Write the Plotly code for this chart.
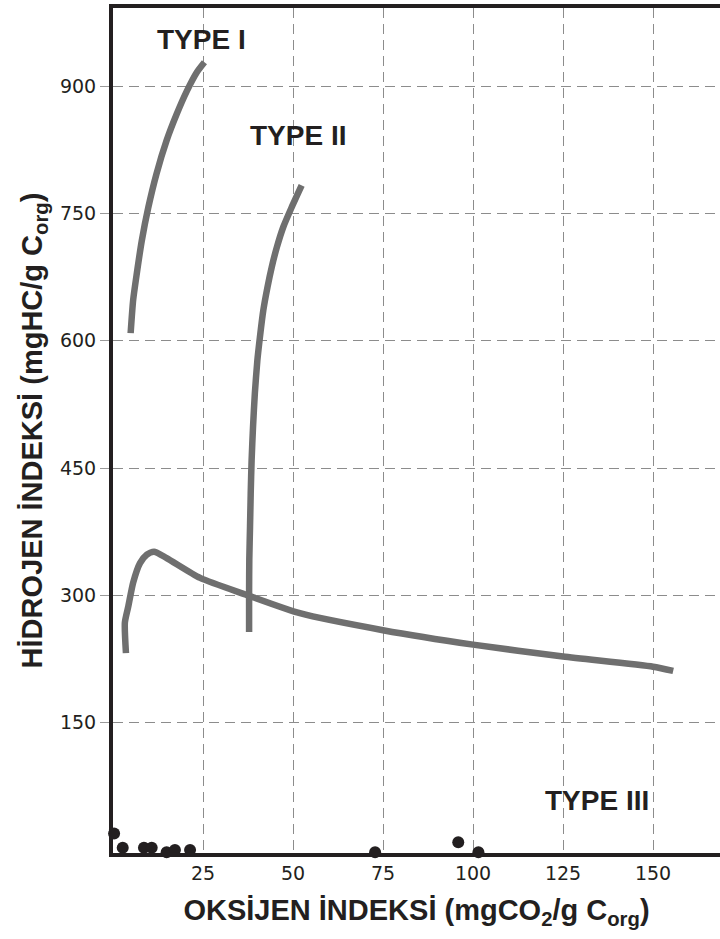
import plotly.graph_objects as go

# Kerogen type curves (Oxygen index, Hydrogen index)
type1_oi = [4.9, 5.6, 6.6, 8.0, 9.8, 12.1, 14.9, 17.7, 20.5, 23.25, 25.4]
type1_hi = [609, 648, 679, 718, 757, 797, 836, 867, 894, 916, 928]

type2_oi = [37.8, 37.8, 37.86, 38.06, 38.25, 38.5, 38.9, 39.4, 40.1, 40.8, 41.75,
            42.9, 44.1, 45.5, 47.3, 49.6, 52.4]
type2_hi = [257, 303, 342, 381, 420, 459, 499, 538, 577, 604, 636,
            663, 687, 710, 734, 757, 783]

type3_oi = [3.6, 3.3, 4.25, 5.6, 7.5, 9.4, 11.4, 14.9, 24.2, 37.1, 51.9, 75, 100, 125, 150, 155.6]
type3_hi = [232, 268, 287, 315, 338, 348, 351.5, 344, 320.6, 300.6, 279, 259, 242, 228, 216, 211]

# Samples
sample_oi = [0.3, 2.7, 8.6, 10.75, 14.9, 17.2, 21.4, 72.8, 95.9, 101.5]
sample_hi = [19.5, 2.6, 2.6, 2.6, -2.6, 0, 0, -2.6, 9.2, -2.6]

x_ticks = [25, 50, 75, 100, 125, 150]
y_ticks = [150, 300, 450, 600, 750, 900]

labels = ["TYPE I", "TYPE II", "TYPE III"]
label_x = [24.5, 51.5, 134.5]
label_y = [955, 842, 58]

curve_color = "#6f6f6f"
ink = "#231f20"

fig = go.Figure()
for xs, ys in [(type1_oi, type1_hi), (type2_oi, type2_hi), (type3_oi, type3_hi)]:
    fig.add_trace(go.Scatter(x=xs, y=ys, mode="lines",
                             line=dict(color=curve_color, width=6.5, shape="spline", smoothing=0.6),
                             hoverinfo="skip", showlegend=False))

fig.add_trace(go.Scatter(x=sample_oi, y=sample_hi, mode="markers",
                         marker=dict(color=ink, size=12),
                         cliponaxis=False, showlegend=False))

for t, lx, ly in zip(labels, label_x, label_y):
    fig.add_annotation(x=lx, y=ly, text="<b>" + t + "</b>", showarrow=False,
                       font=dict(family="Liberation Sans, Arial", size=28, color=ink))

fig.update_layout(
    width=720, height=939,
    margin=dict(l=113, r=0, t=8, b=86),
    paper_bgcolor="white", plot_bgcolor="white",
    showlegend=False,
)

fig.update_xaxes(
    range=[0, 168.6], tickvals=x_ticks, ticktext=[str(v) for v in x_ticks],
    showgrid=True, gridcolor="#8c8c8c", gridwidth=1.2, griddash="10px,6px",
    showline=True, linecolor=ink, linewidth=4, mirror=True,
    ticks="", zeroline=False,
    tickfont=dict(family="DejaVu Sans", size=19, color=ink),
    title=dict(text="<b>OKSİJEN İNDEKSİ (mgCO<sub>2</sub>/g C<sub>org</sub>)</b>",
               font=dict(family="Liberation Sans, Arial", size=29, color=ink), standoff=18),
)
fig.update_yaxes(
    range=[-3.5, 992], tickvals=y_ticks, ticktext=[str(v) for v in y_ticks],
    showgrid=True, gridcolor="#8c8c8c", gridwidth=1.2, griddash="10px,6px",
    showline=True, linecolor=ink, linewidth=4, mirror=False,
    ticks="outside", ticklen=9, tickcolor="#9a9a9a", tickwidth=1,
    zeroline=False,
    tickfont=dict(family="DejaVu Sans", size=19, color=ink),
    title=dict(text="<b>HİDROJEN İNDEKSİ (mgHC/g C<sub>org</sub>)</b>",
               font=dict(family="Liberation Sans, Arial", size=29, color=ink), standoff=10),
)

fig.write_html("out.html")
